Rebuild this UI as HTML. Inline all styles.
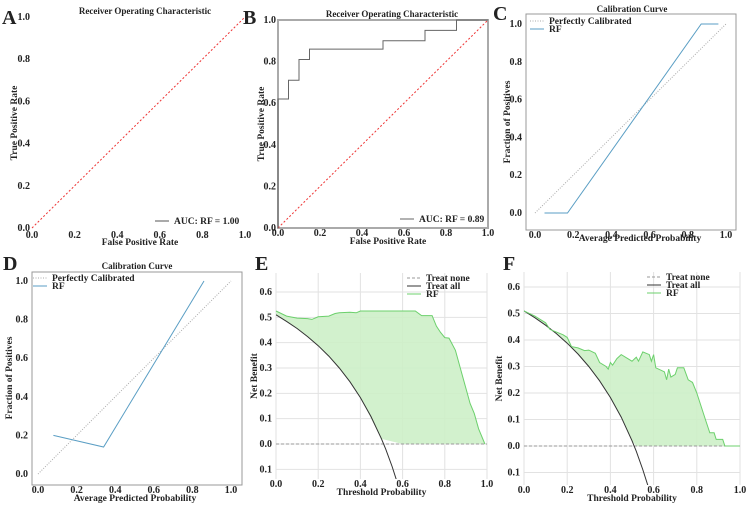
<!DOCTYPE html>
<html><head><meta charset="utf-8"><style>
body{margin:0;background:#fff;}
svg{display:block;font-family:"Liberation Serif",serif;font-weight:bold;}
</style></head><body>
<svg id="fig" width="750" height="506" viewBox="0 0 750 506"></svg>
<script>
// ===== data =====
const rocAx=[0,1];const rocAy=[0,1];
const rocBx=[0,0,0.05,0.05,0.1,0.1,0.15,0.15,0.5,0.5,0.7,0.7,0.85,0.85,1];
const rocBy=[0,0.62,0.62,0.71,0.71,0.81,0.81,0.86,0.86,0.90,0.90,0.95,0.95,1,1];
const calCx=[0.05,0.17,0.87,0.96];const calCy=[0,0,1,1];
const calDx=[0.08,0.34,0.86];const calDy=[0.2,0.14,1.0];
const taT=[0,0.05,0.1,0.15,0.2,0.25,0.3,0.35,0.4,0.45,0.5,0.52,0.55,0.58];
const taV=[0.51,0.484,0.456,0.424,0.388,0.347,0.30,0.246,0.183,0.109,0.02,-0.02,-0.089,-0.166];
const rfET=[0,0.05,0.1,0.15,0.17,0.2,0.25,0.28,0.3,0.35,0.38,0.4,0.5,0.6,0.66,0.69,0.74,0.76,0.78,0.8,0.82,0.85,0.88,0.9,0.92,0.94,0.96,0.99];
const rfEV=[0.525,0.505,0.497,0.495,0.492,0.502,0.505,0.515,0.518,0.52,0.518,0.525,0.525,0.525,0.525,0.507,0.507,0.465,0.44,0.42,0.418,0.37,0.28,0.22,0.16,0.12,0.06,0.0];
const rfFT=[0,0.05,0.1,0.12,0.15,0.18,0.2,0.22,0.25,0.28,0.3,0.33,0.35,0.38,0.39,0.4,0.41,0.43,0.45,0.48,0.5,0.52,0.53,0.55,0.58,0.59,0.6,0.61,0.65,0.66,0.67,0.68,0.7,0.71,0.74,0.76,0.78,0.8,0.84,0.86,0.88,0.89,0.92,0.93,1];
const rfFV=[0.51,0.49,0.465,0.44,0.43,0.42,0.41,0.375,0.37,0.36,0.362,0.35,0.315,0.3,0.29,0.315,0.305,0.33,0.345,0.33,0.32,0.335,0.32,0.355,0.345,0.32,0.345,0.295,0.28,0.25,0.29,0.26,0.27,0.295,0.295,0.25,0.24,0.2,0.1,0.05,0.05,0.025,0.025,0,0];
const ticks01=["0.0","0.2","0.4","0.6","0.8","1.0"];
const ticksNB=["0.1","0.0","0.1","0.2","0.3","0.4","0.5","0.6"];
const ticksNBv=[-0.1,0,0.1,0.2,0.3,0.4,0.5,0.6];
// ===== helpers =====
const S=document.getElementById('fig');const NS="http://www.w3.org/2000/svg";
function mk(tag,attrs,parent){const e=document.createElementNS(NS,tag);for(const k in attrs)e.setAttribute(k,attrs[k]);(parent||S).appendChild(e);return e;}
function txt(x,y,s,size,anchor,rot){const e=mk('text',{x:x,y:y,'font-size':size,'text-anchor':anchor||'middle',fill:'#222'});if(rot)e.setAttribute('transform','rotate(-90 '+x+' '+y+')');e.textContent=s;return e;}
function scale(d0,d1,r0,r1){return v=>r0+(v-d0)/(d1-d0)*(r1-r0);}
function pathOf(xs,ys,sx,sy){return xs.map((v,i)=>(i?'L':'M')+sx(v).toFixed(1)+','+sy(ys[i]).toFixed(1)).join('');}
function xticks(sx,y,labels,vals){labels.forEach((l,i)=>{const t=txt(sx(vals[i]),y,l,10);});}
function yticks(sy,x,labels,vals){labels.forEach((l,i)=>{const t=txt(x,sy(vals[i])+3,l,10,'end');});}
const v01=[0,0.2,0.4,0.6,0.8,1];
function letter(x,y,s){const t=txt(x,y,s,20,'start');}
function legendLine(x,y,color,label,dash){const l=mk('line',{x1:x,y1:y,x2:x+14,y2:y,stroke:color,'stroke-width':1});if(dash)l.setAttribute('stroke-dasharray',dash);const t=txt(x+19,y+3,label,9.5,'start');}

// ===== Panel A =====
(function(){
const sx=scale(0,1,32,245),sy=scale(0,1,228,17);
letter(2,24,'A');
let t=txt(145,14,'Receiver Operating Characteristic',9);
const p=mk('path',{d:pathOf(rocAx,rocAy,sx,sy),stroke:'#e33',fill:'none','stroke-dasharray':'2,2','stroke-width':1});

xticks(sx,238,ticks01,v01);yticks(sy,30,ticks01,v01);
t=txt(140,245,'False Positive Rate',9.5);
t=txt(17,123,'True Positive Rate',9.5,'middle',true);
legendLine(155,221,'#555','AUC: RF = 1.00');
})();
// ===== Panel B =====
(function(){
const sx=scale(0,1,278,488),sy=scale(0,1,228,20);
letter(243,24,'B');
const f=mk('rect',{x:278,y:20,width:210,height:208,fill:'none',stroke:'#aaa','stroke-width':2});
let t=txt(392,17,'Receiver Operating Characteristic',9);
let p=mk('path',{d:pathOf(rocAx,rocAy,sx,sy),stroke:'#e33',fill:'none','stroke-dasharray':'2,2','stroke-width':1});
p=mk('path',{d:pathOf(rocBx,rocBy,sx,sy),stroke:'#666',fill:'none','stroke-width':1});
xticks(sx,236,ticks01,v01);yticks(sy,276,ticks01,v01);
t=txt(388,244,'False Positive Rate',9.5);
t=txt(264,124,'True Positive Rate',9.5,'middle',true);
legendLine(400,219,'#666','AUC: RF = 0.89');
})();
// ===== Panel C =====
(function(){
const sx=scale(0,1,535,726),sy=scale(0,1,213,24);
letter(493,20,'C');
const f=mk('rect',{x:526,y:14,width:210,height:216,fill:'none',stroke:'#999','stroke-width':1});
let t=txt(632,12,'Calibration Curve',9);
let p=mk('path',{d:pathOf([0,1],[0,1],sx,sy),stroke:'#aaa',fill:'none','stroke-dasharray':'1,1.5','stroke-width':1});
p=mk('path',{d:pathOf(calCx,calCy,sx,sy),stroke:'#5a9ec4',fill:'none','stroke-width':1});
xticks(sx,238,ticks01,v01);yticks(sy,522,ticks01,v01);
t=txt(640,241,'Average Predicted Probability',9.5);
t=txt(510,122,'Fraction of Positives',9.5,'middle',true);
legendLine(530,21,'#aaa','Perfectly Calibrated','1,1.5');legendLine(530,29,'#5a9ec4','RF');
})();
// ===== Panel D =====
(function(){
const sx=scale(0,1,38,231),sy=scale(0,1,474,281);
letter(3,270,'D');
const f=mk('rect',{x:32,y:272,width:210,height:213,fill:'none',stroke:'#999','stroke-width':1});
let t=txt(137,269,'Calibration Curve',9);
let p=mk('path',{d:pathOf([0,1],[0,1],sx,sy),stroke:'#aaa',fill:'none','stroke-dasharray':'1,1.5','stroke-width':1});
p=mk('path',{d:pathOf(calDx,calDy,sx,sy),stroke:'#5a9ec4',fill:'none','stroke-width':1});
xticks(sx,493,ticks01,v01);yticks(sy,28,ticks01,v01);
t=txt(135,501,'Average Predicted Probability',9.5);
t=txt(12,378,'Fraction of Positives',9.5,'middle',true);
legendLine(33,278,'#aaa','Perfectly Calibrated','1,1.5');legendLine(33,286,'#5a9ec4','RF');
})();
// ===== DCA panels =====
function dca(o){
const sx=scale(0,1,o.x0,o.x1),sy=scale(0,0.6,o.y0,o.y6);
letter(o.lx,o.ly,o.L);
ticksNBv.forEach(v=>{const g=mk('line',{x1:o.x0,x2:o.x1,y1:sy(v),y2:sy(v),stroke:'#e2e2e2','stroke-width':1});});
v01.forEach(v=>{const g=mk('line',{x1:sx(v),x2:sx(v),y1:o.top,y2:o.bot,stroke:'#e2e2e2','stroke-width':1});});
const cp=mk('clipPath',{id:'clip'+o.L});mk('rect',{x:o.x0,y:o.top,width:o.x1-o.x0,height:o.bot-o.top},cp);
function ta(t){for(let i=1;i<taT.length;i++){if(t<=taT[i]){const f=(t-taT[i-1])/(taT[i]-taT[i-1]);return taV[i-1]+f*(taV[i]-taV[i-1]);}}return -1;}
const lo=o.T.map(t=>Math.max(ta(t),0));const hi=o.V.map((v,i)=>Math.max(v,lo[i]));
let d=o.T.map((t,i)=>(i?'L':'M')+sx(t).toFixed(1)+','+sy(hi[i]).toFixed(1)).join('');
for(let i=o.T.length-1;i>=0;i--)d+='L'+sx(o.T[i]).toFixed(1)+','+sy(lo[i]).toFixed(1);
let p=mk('path',{d:d+'Z',fill:'#cdf0c8',stroke:'none','fill-opacity':0.9});
p=mk('path',{d:pathOf([0,1],[0,0],sx,sy),stroke:'#999',fill:'none','stroke-dasharray':'3,2','stroke-width':1});
p=mk('path',{d:pathOf(taT,taV,sx,sy),stroke:'#333',fill:'none','stroke-width':1,'clip-path':'url(#clip'+o.L+')'});
p=mk('path',{d:pathOf(o.T,o.V,sx,sy),stroke:'#6cd06c',fill:'none','stroke-width':1});
xticks(sx,o.bot+8,ticks01,v01);yticks(sy,o.x0-4,ticksNB,ticksNBv);
let t=txt((o.x0+o.x1)/2,o.bot+16,'Threshold Probability',9.5);
t=txt(o.ytx,(o.top+o.bot)/2,'Net Benefit',9.5,'middle',true);
legendLine(o.legx,o.top+5,'#999','Treat none','3,2');legendLine(o.legx,o.top+13,'#333','Treat all');legendLine(o.legx,o.top+21,'#6cd06c','RF');
}
dca({L:'E',T:rfET,V:rfEV,x0:276,x1:487,y0:444,y6:292,top:273,bot:479,lx:255,ly:270,ytx:257,legx:407});
dca({L:'F',T:rfFT,V:rfFV,x0:524,x1:740,y0:446,y6:287,top:272,bot:485,lx:503,ly:270,ytx:502,legx:647});
</script>
</body></html>
